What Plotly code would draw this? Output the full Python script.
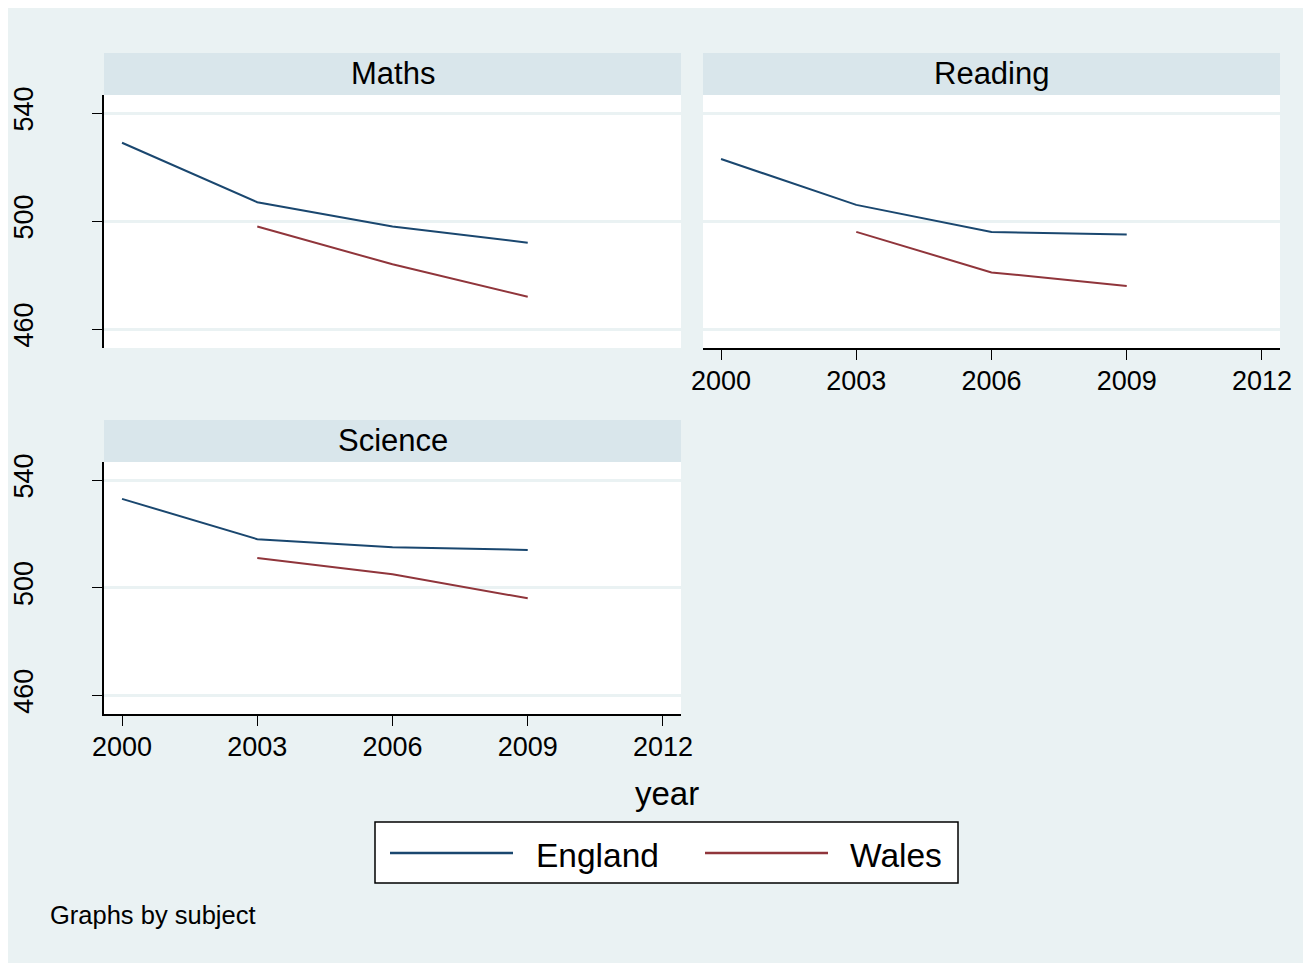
import plotly.graph_objects as go

# ---------------- data ----------------
years = [2000, 2003, 2006, 2009]
subjects = ["Maths", "Reading", "Science"]
england_maths = [529, 507, 498, 492]
wales_maths = [None, 498, 484, 472]
england_reading = [523, 506, 496, 495]
wales_reading = [None, 496, 481, 476]
england_science = [533, 518, 515, 514]
wales_science = [None, 511, 505, 496]
x_ticks = [2000, 2003, 2006, 2009, 2012]
y_ticks = [460, 500, 540]
series_names = ["England", "Wales"]

W, H = 1311, 963
OFF = 8  # page body margin
NAVY = "#1A476F"
MAROON = "#90353B"
BG = "#EAF2F3"
STRIP = "#D9E6EB"
FONT = "Liberation Sans, Arial, sans-serif"

def px(x):
    return (x - OFF) / W

def py(y):
    return 1 - (y - OFF) / H

fig = go.Figure()

panels = [
    ("Maths", "x", "y", 104, 681, 53, 95, 348, england_maths, wales_maths, False, True),
    ("Reading", "x2", "y2", 703, 1280, 53, 95, 348, england_reading, wales_reading, True, False),
    ("Science", "x3", "y3", 104, 681, 420, 462, 714, england_science, wales_science, True, True),
]

shapes = [
    dict(type="rect", xref="paper", yref="paper", x0=0, x1=1, y0=0, y1=1,
         fillcolor=BG, line=dict(width=0), layer="below"),
]
annotations = []

for i, (name, xa, ya, x0, x1, st, pt, pb, eng, wal, show_x, show_y) in enumerate(panels):
    fig.add_trace(go.Scatter(x=years, y=eng, mode="lines", name=series_names[0],
                             line=dict(color=NAVY, width=2), xaxis=xa, yaxis=ya,
                             showlegend=False, connectgaps=False))
    fig.add_trace(go.Scatter(x=years, y=wal, mode="lines", name=series_names[1],
                             line=dict(color=MAROON, width=2), xaxis=xa, yaxis=ya,
                             showlegend=False, connectgaps=False))
    shapes.append(dict(type="rect", xref="paper", yref="paper", x0=px(x0), x1=px(x1),
                       y0=py(pb), y1=py(pt), fillcolor="white", line=dict(width=0), layer="below"))
    shapes.append(dict(type="rect", xref="paper", yref="paper", x0=px(x0), x1=px(x1),
                       y0=py(pt), y1=py(st), fillcolor=STRIP, line=dict(width=0), layer="below"))
    annotations.append(dict(text=name, xref="paper", yref="paper", x=px((x0 + x1) / 2),
                            y=py((st + pt) / 2 - 1), showarrow=False, xanchor="center", yanchor="middle",
                            font=dict(size=31, color="black", family=FONT)))
    suffix = "" if i == 0 else str(i + 1)
    fig.layout["xaxis" + suffix] = dict(
        domain=[px(x0), px(x1)], range=[1999.6, 2012.4], anchor=ya, automargin=False,
        tickvals=x_ticks, showgrid=False, zeroline=False,
        showline=show_x, linecolor="black", linewidth=1.5,
        ticks="outside" if show_x else "", ticklen=10, tickwidth=1.2, tickcolor="black",
        showticklabels=show_x, ticklabelstandoff=-2,
        tickfont=dict(size=27, color="black", family=FONT),
    )
    fig.layout["yaxis" + suffix] = dict(
        domain=[py(pb), py(pt)], range=[453, 546.7], anchor=xa, automargin=False,
        tickvals=y_ticks, showgrid=True, gridcolor=BG, gridwidth=2.5, zeroline=False,
        showline=show_y, linecolor="black", linewidth=1.5,
        ticks="outside" if show_y else "", ticklen=10, tickwidth=1.2, tickcolor="black",
        showticklabels=show_y, tickangle=-90, ticklabelstandoff=48,
        tickfont=dict(size=27, color="black", family=FONT),
    )

annotations.append(dict(text="year", xref="paper", yref="paper", x=px(667), y=py(793),
                        showarrow=False, xanchor="center", yanchor="middle",
                        font=dict(size=33, color="black", family=FONT)))
shapes.append(dict(type="rect", xref="paper", yref="paper", x0=px(375), x1=px(958),
                   y0=py(883), y1=py(822), fillcolor="white", line=dict(color="black", width=1.5)))
for (lx0, lx1, tx, col, nm) in [(390, 513, 534, NAVY, series_names[0]),
                                (705, 828, 848, MAROON, series_names[1])]:
    shapes.append(dict(type="line", xref="paper", yref="paper", x0=px(lx0), x1=px(lx1),
                       y0=py(853), y1=py(853), line=dict(color=col, width=2.5)))
    annotations.append(dict(text=nm, xref="paper", yref="paper", x=px(tx), y=py(855),
                            showarrow=False, xanchor="left", yanchor="middle",
                            font=dict(size=33.5, color="black", family=FONT)))
annotations.append(dict(text="Graphs by subject", xref="paper", yref="paper", x=px(48), y=py(915),
                        showarrow=False, xanchor="left", yanchor="middle",
                        font=dict(size=25.5, color="black", family=FONT)))

fig.update_layout(
    template="none",
    width=W, height=H, margin=dict(l=0, r=0, t=0, b=0, pad=0, autoexpand=False),
    paper_bgcolor=BG, plot_bgcolor="rgba(0,0,0,0)",
    shapes=shapes, annotations=annotations, showlegend=False,
    font=dict(family=FONT, color="black"),
)

fig.write_html("out.html")
